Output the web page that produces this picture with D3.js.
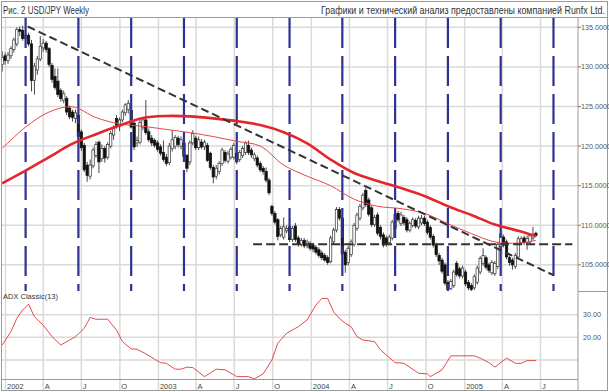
<!DOCTYPE html>
<html>
<head>
<meta charset="utf-8">
<script src="https://cdn.jsdelivr.net/npm/d3@7"></script>
<style>
  html, body { margin: 0; padding: 0; background: #fff; }
  svg { display: block; font-family: "Liberation Sans", Arial, sans-serif; }
</style>
</head>
<body>
<div id="chart"></div>
<script>
// weekly USD/JPY bars, first bar = week of 2001-12-24
const firstWeek = new Date(2001, 11, 24);

const opens = [
  130.3, 131.4, 130.8, 131.4, 132.2, 132.9, 134.7, 134.6, 133.6, 134.0,
  132.9, 128.3, 129.6, 131.0, 132.4, 133.0, 132.3, 130.2, 128.8, 128.2,
  127.0, 125.8, 126.0, 124.8, 124.3, 123.5, 123.9, 121.8, 120.1, 117.6,
  116.2, 117.5, 118.8, 120.5, 118.4, 119.7, 118.6, 120.0, 121.4, 123.5,
  122.5, 123.3, 124.2, 124.6, 124.5, 122.9, 120.4, 120.5, 122.4, 123.3,
  121.8, 121.0, 120.7, 120.4, 119.9, 119.2, 118.6, 117.9, 119.7, 120.0,
  121.0, 120.0, 120.4, 118.8, 118.0, 120.4, 121.0, 119.8, 120.5, 119.9,
  120.1, 119.1, 117.3, 116.2, 116.8, 117.8, 119.2, 118.1, 118.6, 118.6,
  119.1, 118.3, 118.8, 119.2, 120.1, 119.5, 118.4, 118.5, 117.8, 117.2,
  116.8, 115.7, 112.4, 111.5, 110.7, 108.8, 108.5, 109.3, 109.8, 108.2,
  109.9, 108.4, 107.6, 108.1, 107.4, 107.7, 107.5, 107.2, 106.9, 106.5,
  106.2, 105.9, 105.4, 107.9, 109.4, 112.0, 110.9, 106.6, 105.3, 106.3,
  107.6, 109.6, 110.9, 112.2, 114.4, 113.2, 112.2, 110.1, 111.3, 109.7,
  108.8, 108.4, 107.8, 108.4, 109.6, 111.5, 110.2, 111.0, 110.7, 109.4,
  110.0, 110.6, 109.8, 110.3, 110.9, 110.4, 109.7, 108.6, 107.5, 106.2,
  105.6, 105.0, 102.8, 102.0, 102.4, 105.2, 104.5, 103.6, 104.1, 102.8,
  102.4, 102.1, 102.8, 104.1, 105.2, 105.9, 105.0, 104.0, 103.9, 104.8,
  107.3, 108.5, 107.9, 105.9, 105.6, 104.8, 106.0, 107.8, 108.4, 107.8,
  107.9, 108.4, 109.0
];
const highs = [
  132.0, 131.8, 131.9, 132.6, 133.7, 135.0, 135.1, 135.2, 134.5, 134.3,
  133.4, 130.5, 131.4, 133.9, 133.5, 133.3, 132.5, 130.5, 129.8, 129.8,
  127.3, 127.0, 126.3, 125.1, 124.6, 124.6, 124.2, 122.1, 120.4, 118.0,
  118.3, 119.8, 120.6, 120.7, 120.2, 120.0, 120.5, 121.9, 122.6, 123.9,
  123.6, 124.6, 125.4, 125.8, 125.0, 123.1, 121.2, 123.3, 123.5, 125.8,
  122.2, 121.4, 121.0, 120.7, 120.2, 120.7, 119.0, 120.4, 122.0, 121.4,
  121.3, 121.2, 120.8, 119.0, 120.7, 122.0, 121.3, 121.2, 120.9, 120.8,
  120.4, 119.3, 117.6, 117.6, 118.1, 119.8, 119.5, 119.4, 119.9, 120.4,
  119.4, 119.5, 120.0, 120.6, 120.7, 119.8, 119.2, 118.8, 118.1, 117.5,
  117.3, 116.0, 112.6, 111.8, 110.9, 109.9, 111.0, 110.0, 110.1, 109.9,
  110.3, 108.7, 108.4, 108.4, 108.2, 108.0, 107.8, 107.5, 107.2, 106.8,
  106.5, 106.2, 108.7, 109.7, 112.3, 112.3, 111.2, 106.9, 107.4, 108.2,
  110.3, 111.6, 112.7, 114.1, 114.8, 113.5, 112.5, 111.3, 111.6, 110.0,
  109.1, 108.7, 108.8, 110.7, 111.7, 111.8, 111.7, 111.3, 111.0, 110.5,
  111.0, 110.9, 111.2, 111.3, 111.2, 110.7, 110.0, 108.9, 107.8, 106.5,
  105.9, 105.3, 103.1, 103.2, 104.4, 105.5, 104.8, 104.9, 104.4, 103.1,
  102.7, 103.8, 104.9, 106.1, 107.1, 106.2, 105.3, 105.6, 105.5, 107.9,
  109.4, 108.8, 108.2, 106.2, 105.9, 106.5, 108.6, 108.6, 108.7, 108.7,
  108.9, 109.8, 109.2
];
const lows = [
  129.4, 130.3, 130.4, 131.0, 131.8, 132.6, 133.9, 133.3, 133.0, 132.6,
  126.9, 126.5, 129.0, 130.7, 131.9, 131.8, 130.0, 128.0, 127.1, 126.2,
  125.6, 125.4, 123.9, 123.4, 123.1, 122.9, 120.9, 119.4, 116.7, 115.5,
  115.8, 117.2, 118.5, 116.6, 118.0, 117.9, 118.3, 119.7, 120.8, 122.2,
  121.9, 123.0, 123.8, 124.1, 122.2, 119.5, 119.9, 120.2, 122.0, 121.4,
  120.5, 120.0, 119.8, 119.3, 118.8, 118.0, 117.5, 117.6, 119.3, 119.6,
  119.8, 119.6, 118.4, 116.7, 117.6, 120.1, 119.5, 119.5, 119.6, 119.5,
  118.0, 117.0, 115.3, 115.8, 116.4, 117.5, 117.9, 117.8, 118.3, 118.3,
  117.7, 118.0, 118.5, 118.9, 118.9, 118.5, 118.1, 117.3, 116.7, 116.4,
  115.4, 113.8, 111.2, 110.1, 108.1, 108.5, 108.2, 109.0, 107.9, 107.9,
  107.9, 107.3, 107.3, 107.1, 107.1, 106.8, 106.6, 106.3, 105.9, 105.6,
  105.4, 105.0, 105.2, 107.6, 109.1, 110.6, 106.0, 104.0, 104.9, 106.0,
  107.3, 109.3, 110.6, 111.9, 112.3, 111.1, 109.8, 109.8, 108.7, 108.2,
  107.2, 107.3, 107.5, 108.1, 109.3, 110.4, 109.9, 110.0, 109.1, 109.1,
  109.7, 109.6, 109.5, 110.0, 109.9, 108.8, 108.2, 107.2, 106.0, 105.0,
  103.9, 102.4, 101.7, 101.8, 102.1, 103.5, 103.3, 103.3, 102.3, 101.8,
  101.7, 101.8, 102.5, 103.8, 104.9, 104.4, 104.0, 103.7, 103.6, 104.5,
  107.0, 107.2, 105.7, 104.9, 104.4, 104.5, 105.7, 107.5, 107.5, 106.9,
  107.6, 108.1, 108.5
];
const closes = [
  131.2, 130.8, 131.5, 132.3, 133.4, 134.7, 134.5, 133.6, 134.0, 132.9,
  128.3, 130.1, 131.0, 132.6, 133.0, 132.2, 130.3, 128.4, 127.4, 126.5,
  126.0, 126.6, 124.3, 123.7, 123.6, 124.2, 121.2, 119.8, 117.0, 116.3,
  117.6, 119.5, 120.2, 118.0, 119.7, 118.5, 120.2, 121.6, 122.3, 122.6,
  123.3, 124.3, 125.2, 125.4, 122.4, 119.9, 120.7, 123.0, 123.3, 121.7,
  120.8, 120.4, 120.1, 119.6, 119.1, 118.3, 117.8, 120.0, 120.8, 121.1,
  120.2, 120.8, 118.7, 117.2, 120.4, 121.6, 119.8, 120.8, 119.9, 120.5,
  118.2, 117.3, 116.1, 117.2, 117.8, 119.5, 118.2, 119.0, 119.6, 120.1,
  118.0, 119.2, 119.7, 120.4, 119.2, 118.9, 118.9, 117.6, 117.0, 116.8,
  115.7, 114.1, 111.5, 110.4, 108.6, 109.6, 109.8, 109.6, 108.2, 109.6,
  108.2, 107.6, 108.1, 107.4, 107.9, 107.1, 107.0, 106.6, 106.2, 105.9,
  105.6, 105.3, 108.4, 109.4, 112.0, 110.9, 106.4, 105.0, 107.1, 107.9,
  110.0, 111.3, 112.4, 113.8, 112.6, 111.4, 110.1, 111.0, 109.0, 108.6,
  107.5, 107.6, 108.5, 110.4, 111.4, 110.7, 111.3, 110.3, 109.4, 110.2,
  110.7, 109.9, 110.9, 110.9, 110.2, 109.1, 108.5, 107.5, 106.3, 105.5,
  104.2, 102.7, 101.9, 102.9, 104.1, 103.8, 103.6, 104.6, 102.6, 102.1,
  101.9, 103.5, 104.6, 105.8, 106.2, 104.7, 104.3, 105.3, 105.2, 107.6,
  108.9, 107.5, 106.0, 105.3, 105.0, 106.2, 108.3, 108.3, 107.8, 108.3,
  108.7, 108.8, 108.7
];

// moving averages, read every 8 weeks (last point = last bar)
const maWeeks = [0, 8, 16, 24, 32, 40, 48, 56, 64, 72, 80, 88, 96, 104, 112, 120, 128, 136, 144, 152, 160, 168, 176, 182];
const maSlow = [115.3, 116.9, 118.6, 120.3, 121.5, 122.6, 123.55, 123.8, 123.75, 123.5, 123.15, 122.65,
                121.75, 120.35, 118.3, 116.6, 115.6, 114.7, 113.7, 112.4, 111.3, 110.1, 109.3, 108.6];
const maFast = [119.7, 122.4, 124.3, 124.95, 123.6, 122.8, 122.5, 122.1, 121.7, 121.2, 120.6, 120.0,
                117.6, 116.2, 115.0, 113.3, 112.4, 112.1, 111.5, 110.2, 108.95, 107.9, 107.75, 108.1];

// ADX Classic(13)
const adxWeeks = [0, 3, 5, 7, 9, 11, 14, 17, 20, 23, 25, 28, 30, 32, 36, 39, 41, 44, 46, 49, 52, 54, 56, 59, 61, 63, 65,
                  69, 73, 76, 79, 80, 84, 86, 89, 92, 94, 97, 101, 104, 105, 107, 109, 111, 113, 115, 117, 119, 121,
                  123, 127, 129, 131, 134, 137, 142, 145, 146, 150, 153, 156, 161, 163, 166, 168, 172, 175, 177, 179, 182];
const adxValues = [16.6, 22.5, 28.4, 32.1, 34.7, 29.1, 25.4, 20.3, 16.6, 18.8, 20.3, 24.0, 28.8, 28.0, 28.0, 23.2, 18.1,
                   14.9, 14.7, 12.7, 10.3, 8.8, 8.5, 5.9, 5.9, 6.8, 6.6, 2.6, 5.9, 5.6, 3.4, 2.6, 2.6, 1.6, 3.8, 10.0,
                   17.4, 21.8, 24.7, 27.7, 29.9, 34.3, 37.2, 37.2, 31.3, 28.4, 26.2, 24.7, 20.3, 18.8, 18.1, 14.4, 12.2,
                   8.8, 8.5, 4.1, 3.8, 2.6, 5.6, 11.8, 11.8, 11.8, 10.8, 8.8, 6.8, 10.8, 8.5, 8.5, 9.7, 9.7];

// cycle lines every 18 weeks
const cycleWeeks = [8, 26, 44, 62, 80, 98, 116, 134, 152, 170, 188];

// drawn trend lines
const trendDates = ["2002-02-23", "2005-08-01"];
const trendPrices = [135.1, 103.7];
const supportDates = ["2003-08-15", "2005-09-15"];
const supportPrices = [107.6, 107.6];

const priceTicks = [105, 110, 115, 120, 125, 130, 135];
const adxTicks = [10, 20, 30];
const adxTickLabels = ["", "20.00", "30.00"];
const quarterLabels = ["2002", "A", "J", "O", "2003", "A", "J", "O", "2004", "A", "J", "O", "2005", "A", "J"];

const W = 609, H = 392;
const axisX = 578;
const gridColor = "#dadada";

const svg = d3.select("#chart").append("svg")
  .attr("width", W)
  .attr("height", H);

svg.append("rect").attr("width", W).attr("height", H).attr("fill", "#fff");

const x = d3.scaleTime()
  .domain([new Date(2002, 0, 1), new Date(2005, 6, 1)])
  .range([5.5, 540.5]);
const y = d3.scaleLinear().domain([101.7, 136.3]).range([291, 17]);
const yAdx = d3.scaleLinear().domain([1.55, 40.5]).range([379, 291]);

const weekDate = i => d3.timeDay.offset(firstWeek, 7 * i);
const parse = d3.timeParse("%Y-%m-%d");

const bars = closes.map((c, i) => ({
  date: weekDate(i), o: opens[i], h: highs[i], l: lows[i], c: c
}));

// frame + header
svg.append("rect")
  .attr("x", 1.5).attr("y", 1.5)
  .attr("width", W - 3).attr("height", H - 3)
  .attr("fill", "none").attr("stroke", "#9a9a9a");
svg.append("line")
  .attr("x1", 1.5).attr("x2", W - 1.5).attr("y1", 17.5).attr("y2", 17.5)
  .attr("stroke", "#9a9a9a");

svg.append("text")
  .attr("x", 3).attr("y", 13.5)
  .attr("font-size", 10.5).attr("fill", "#333")
  .attr("textLength", 86).attr("lengthAdjust", "spacingAndGlyphs")
  .text("Рис. 2  USD/JPY Weekly");
svg.append("text")
  .attr("x", 321).attr("y", 13.5)
  .attr("font-size", 11.5).attr("fill", "#333")
  .attr("textLength", 284).attr("lengthAdjust", "spacingAndGlyphs")
  .text("Графики и технический анализ предоставлены компанией Runfx Ltd.");

// grid
const quarters = x.ticks(d3.timeMonth.every(3));
const grid = svg.append("g");
grid.selectAll(".vg").data(quarters).enter().append("line")
  .attr("x1", d => x(d)).attr("x2", d => x(d))
  .attr("y1", 18).attr("y2", H - 2)
  .attr("stroke", gridColor).attr("stroke-width", 1.5);
grid.selectAll(".hg").data(priceTicks).enter().append("line")
  .attr("x1", 2).attr("x2", axisX)
  .attr("y1", d => y(d)).attr("y2", d => y(d))
  .attr("stroke", gridColor).attr("stroke-width", 1.5);
grid.selectAll(".ag").data(adxTicks).enter().append("line")
  .attr("x1", 2).attr("x2", axisX)
  .attr("y1", d => yAdx(d)).attr("y2", d => yAdx(d))
  .attr("stroke", gridColor).attr("stroke-width", 1.5);

// axis lines
svg.append("line")
  .attr("x1", axisX).attr("x2", axisX).attr("y1", 18).attr("y2", H - 2)
  .attr("stroke", "#9a9a9a");
svg.append("line")
  .attr("x1", axisX).attr("x2", W - 2).attr("y1", 291.5).attr("y2", 291.5)
  .attr("stroke", "#9a9a9a");
svg.append("line")
  .attr("x1", 2).attr("x2", axisX).attr("y1", 379.5).attr("y2", 379.5)
  .attr("stroke", "#9a9a9a");

// right price axis
const priceAxis = svg.append("g").attr("font-size", 7.2).attr("fill", "#555");
priceAxis.selectAll("line").data(priceTicks).enter().append("line")
  .attr("x1", axisX).attr("x2", axisX + 3)
  .attr("y1", d => y(d)).attr("y2", d => y(d))
  .attr("stroke", "#777");
priceAxis.selectAll("text").data(priceTicks).enter().append("text")
  .attr("x", axisX + 3).attr("y", d => y(d) + 2.6)
  .text(d => d3.format(".4f")(d));

const adxAxis = svg.append("g").attr("font-size", 7.2).attr("fill", "#555");
adxAxis.selectAll("text").data(adxTicks).enter().append("text")
  .attr("x", axisX + 5).attr("y", d => yAdx(d) + 2.6)
  .text((d, i) => adxTickLabels[i]);

// bottom time labels
svg.append("g").attr("font-size", 7.5).attr("fill", "#444")
  .selectAll("text").data(quarters).enter().append("text")
  .attr("x", d => x(d) + 1.5).attr("y", 388.5)
  .text((d, i) => quarterLabels[i]);

// price panel
svg.append("clipPath").attr("id", "pclip")
  .append("rect").attr("x", 2).attr("y", 18).attr("width", axisX - 2).attr("height", 273);
const price = svg.append("g").attr("clip-path", "url(#pclip)");

const candles = price.selectAll(".c").data(bars).enter().append("g");
candles.append("line")
  .attr("x1", d => x(d.date)).attr("x2", d => x(d.date))
  .attr("y1", d => y(d.h)).attr("y2", d => y(d.l))
  .attr("stroke", "#333").attr("stroke-width", 0.9);
candles.append("rect")
  .attr("x", d => x(d.date) - 1.2)
  .attr("width", 2.4)
  .attr("y", d => y(Math.max(d.o, d.c)))
  .attr("height", d => Math.max(0.8, Math.abs(y(d.o) - y(d.c))))
  .attr("fill", d => d.c >= d.o ? "#fff" : "#111")
  .attr("stroke", d => d.c >= d.o ? "#333" : "#111")
  .attr("stroke-width", 0.7);

// cycle lines
price.selectAll(".cy").data(cycleWeeks).enter().append("line")
  .attr("x1", d => x(weekDate(d))).attr("x2", d => x(weekDate(d)))
  .attr("y1", 18).attr("y2", 291)
  .attr("stroke", "#2e3192").attr("stroke-width", 2.2)
  .attr("stroke-dasharray", "30,8");

// moving averages
const maLine = vals => d3.line()
  .x((d, i) => x(weekDate(maWeeks[i])))
  .y(d => y(d))
  .curve(d3.curveCatmullRom)(vals);
price.append("path").attr("d", maLine(maFast))
  .attr("fill", "none").attr("stroke", "#e8464a").attr("stroke-width", 1);
price.append("path").attr("d", maLine(maSlow))
  .attr("fill", "none").attr("stroke", "#e3262b").attr("stroke-width", 2.6);

// trend lines
const tLine = d3.line().x(d => x(parse(d[0]))).y(d => y(d[1]));
price.append("path").attr("d", tLine(trendDates.map((d, i) => [d, trendPrices[i]])))
  .attr("fill", "none").attr("stroke", "#333").attr("stroke-width", 2)
  .attr("stroke-dasharray", "8,4");
price.append("path").attr("d", tLine(supportDates.map((d, i) => [d, supportPrices[i]])))
  .attr("fill", "none").attr("stroke", "#333").attr("stroke-width", 2)
  .attr("stroke-dasharray", "9,4");

// ADX panel
svg.append("text")
  .attr("x", 3).attr("y", 298.5)
  .attr("font-size", 7.5).attr("fill", "#333")
  .text("ADX Classic(13)");
svg.append("path")
  .attr("d", d3.line()
    .x((d, i) => x(weekDate(adxWeeks[i])))
    .y(d => yAdx(d))(adxValues))
  .attr("fill", "none").attr("stroke", "#e34a4a").attr("stroke-width", 1);
</script>
</body>
</html>
